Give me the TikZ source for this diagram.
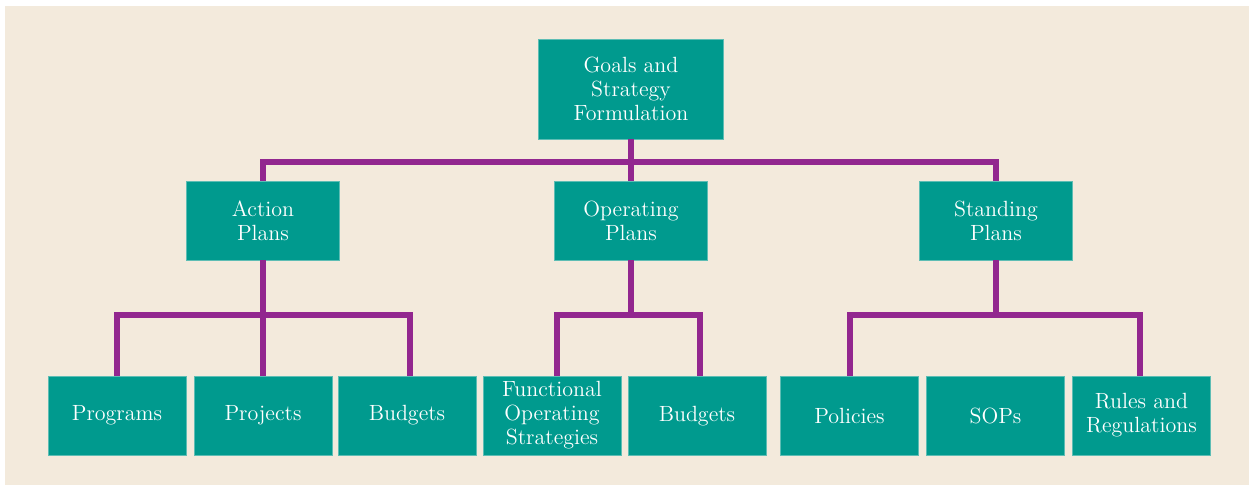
\documentclass[tikz,border=0pt]{standalone}
\usepackage{xcolor}
\usepackage{tikz}
\usetikzlibrary{positioning}

\definecolor{paper}{HTML}{F3EADC}
\definecolor{tealbox}{HTML}{009A8E}
\definecolor{tealedge}{HTML}{5DBDB4}
\definecolor{plum}{HTML}{92278F}

\begin{document}
\begin{tikzpicture}[
        % one unit = one pixel of the reference, y pointing down
        x=0.5pt, y=-0.5pt,
        box/.style={fill=tealbox, draw=tealedge, line width=0.4pt, text=white, align=center,
            font=\fontsize{11}{12}\selectfont, inner sep=2pt},
        topbox/.style={box, minimum width=92.5pt, minimum height=50pt},
        planbox/.style={box, minimum width=76.5pt, minimum height=39.5pt},
        leafbox/.style={box, minimum width=69pt, minimum height=39.5pt},
        link/.style={draw=plum, line width=3pt}
    ]

    % background and frame of the page
    \useasboundingbox (0,0) rectangle (1249,485);
    \fill[paper] (5,6) rectangle (1249,485);

    % Define the nodes
    \node[topbox] (goals) at (631,89) {Goals and \\ Strategy \\ Formulation};

    \node[planbox] (action) at (263,220.5) {Action \\ Plans};
    \node[planbox] (operating) at (631,220.5) {Operating \\ Plans};
    \node[planbox] (standing) at (996,220.5) {Standing \\ Plans};

    \node[leafbox] (programs) at (117,415.5) {Programs};
    \node[leafbox] (projects) at (263,415.5) {Projects};
    \node[leafbox] (budgetsa) at (407,415.5) {Budgets};
    \node[leafbox] (functional) at (552,415.5) {Functional \\ Operating \\ Strategies};
    \node[leafbox] (budgetsb) at (697,416) {Budgets};
    \node[leafbox] (policies) at (849.5,415.5) {Policies};
    \node[leafbox] (sops) at (995.5,415.5) {SOPs};
    \node[leafbox] (rules) at (1141.5,415.5) {Rules and \\ Regulations};

    % Draw the connectors
    \coordinate (topbus) at (631,162);
    \draw[link] (goals.south) -- (topbus);
    \draw[link] (topbus) -| (action.north);
    \draw[link] (topbus) -- (operating.north);
    \draw[link] (topbus) -| (standing.north);

    \coordinate (actionbus) at (263,315);
    \draw[link] (action.south) -- (actionbus);
    \draw[link] (actionbus) -| (programs.north);
    \draw[link] (actionbus) -- (projects.north);
    \draw[link] (actionbus) -| ([xshift=1.5pt]budgetsa.north);

    \coordinate (operatingbus) at (631,315);
    \draw[link] (operating.south) -- (operatingbus);
    \draw[link] (operatingbus) -| ([xshift=2.5pt]functional.north);
    \draw[link] (operatingbus) -| ([xshift=1.5pt]budgetsb.north);

    \coordinate (standingbus) at (996,315);
    \draw[link] (standing.south) -- (standingbus);
    \draw[link] (standingbus) -| (policies.north);
    \draw[link] (standingbus) -| ([xshift=-1pt]rules.north);

\end{tikzpicture}
\end{document}
